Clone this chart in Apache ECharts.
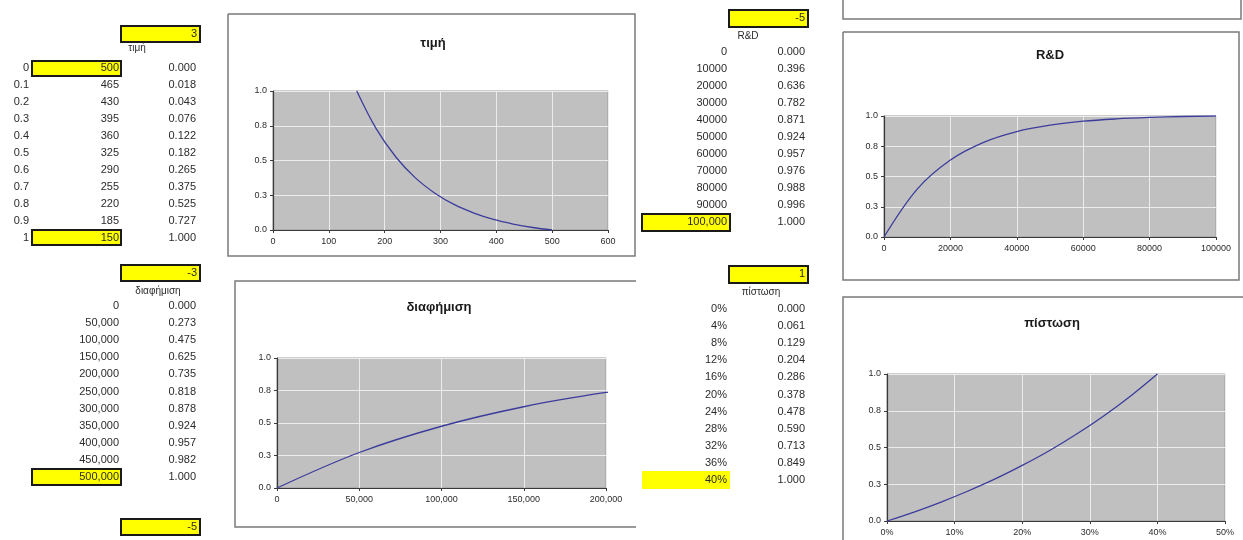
<!DOCTYPE html>
<html>
<head>
<meta charset="utf-8">
<script src="https://cdn.jsdelivr.net/npm/echarts@6/dist/echarts.min.js"></script>
<style>
  html, body { margin: 0; padding: 0; background: #ffffff; }
  #main { width: 1243px; height: 540px; }
</style>
</head>
<body>
<div id="main"></div>
<script>
// ---- spreadsheet parameters ----
const priceParam = 3;
const adParam = -3;
const rdParam = -5;
const creditParam = 1;
const nextParam = -5;

// ---- τιμή (price) ----
const priceSteps = [0, 0.1, 0.2, 0.3, 0.4, 0.5, 0.6, 0.7, 0.8, 0.9, 1];
const priceValues = [500, 465, 430, 395, 360, 325, 290, 255, 220, 185, 150];
const priceScores = [0.000, 0.018, 0.043, 0.076, 0.122, 0.182, 0.265, 0.375, 0.525, 0.727, 1.000];

// ---- διαφήμιση (advertising) ----
const adSpend = [0, 50000, 100000, 150000, 200000, 250000, 300000, 350000, 400000, 450000, 500000];
const adScores = [0.000, 0.273, 0.475, 0.625, 0.735, 0.818, 0.878, 0.924, 0.957, 0.982, 1.000];

// ---- R&D ----
const rdSpend = [0, 10000, 20000, 30000, 40000, 50000, 60000, 70000, 80000, 90000, 100000];
const rdScores = [0.000, 0.396, 0.636, 0.782, 0.871, 0.924, 0.957, 0.976, 0.988, 0.996, 1.000];

// ---- πίστωση (credit) ----
const creditRates = [0, 0.04, 0.08, 0.12, 0.16, 0.20, 0.24, 0.28, 0.32, 0.36, 0.40];
const creditScores = [0.000, 0.061, 0.129, 0.204, 0.286, 0.378, 0.478, 0.590, 0.713, 0.849, 1.000];

// ---- axis tick labels ----
const yTickLabels = ['0.0', '0.3', '0.5', '0.8', '1.0'];
const priceTicks = ['0', '100', '200', '300', '400', '500', '600'];
const adTicks = ['0', '50,000', '100,000', '150,000', '200,000'];
const rdTicks = ['0', '20000', '40000', '60000', '80000', '100000'];
const creditTicks = ['0%', '10%', '20%', '30%', '40%', '50%'];

const FONT = "'Liberation Sans', Arial, sans-serif";
const TEXT = '#2b2b2b';
const LINE = '#3c3c9c';

const chart = echarts.init(document.getElementById('main'), null, { renderer: 'canvas' });

// ---------- cell layout helpers ----------
const g = [];
function cellText(x, y, str, opts) {
  g.push({
    type: 'text', x: x, y: y, z: 20,
    style: Object.assign({
      text: str, fill: TEXT, font: '11px ' + FONT,
      align: 'right', verticalAlign: 'middle'
    }, opts || {})
  });
}
function yellowCell(x, y, w, h, border) {
  g.push({
    type: 'rect', z: 10,
    shape: { x: x, y: y, width: w, height: h },
    style: border
      ? { fill: '#ffff00', stroke: '#1a1a1a', lineWidth: 2 }
      : { fill: '#ffff00' }
  });
}
function frame(points) {
  g.push({
    type: 'polyline', z: 5,
    shape: { points: points },
    style: { stroke: '#7a7a7a', lineWidth: 1.5, fill: null }
  });
}
function fmtComma(v) { return v.toLocaleString('en-US'); }

// table: τιμή
yellowCell(121, 26, 79, 16, true);
cellText(197, 34, String(priceParam));
cellText(137, 48, 'τιμή', { align: 'center', font: '10px ' + FONT });
yellowCell(32, 61, 89, 15, true);
yellowCell(32, 230, 89, 15, true);
priceSteps.forEach((s, i) => {
  const y = 68 + i * 17;
  cellText(29, y, String(s));
  cellText(119, y, String(priceValues[i]));
  cellText(196, y, priceScores[i].toFixed(3));
});

// table: διαφήμιση
yellowCell(121, 265, 79, 16, true);
cellText(197, 273, String(adParam));
cellText(158, 291, 'διαφήμιση', { align: 'center', font: '10px ' + FONT });
yellowCell(32, 469, 89, 16, true);
adSpend.forEach((s, i) => {
  const y = 306 + i * 17.1;
  cellText(119, y, i === 0 ? '0' : fmtComma(s));
  cellText(196, y, adScores[i].toFixed(3));
});
yellowCell(121, 519, 79, 16, true);
cellText(197, 527, String(nextParam));

// table: R&D
yellowCell(729, 10, 79, 17, true);
cellText(805, 18, String(rdParam));
cellText(748, 36, 'R&D', { align: 'center', font: '10px ' + FONT });
yellowCell(642, 214, 88, 17, true);
rdSpend.forEach((s, i) => {
  const y = 52 + i * 17;
  cellText(727, y, i === rdSpend.length - 1 ? fmtComma(s) : String(s));
  cellText(805, y, rdScores[i].toFixed(3));
});

// table: πίστωση
yellowCell(729, 266, 79, 17, true);
cellText(805, 274, String(creditParam));
cellText(761, 292, 'πίστωση', { align: 'center', font: '10px ' + FONT });
yellowCell(642, 471, 88, 18, false);
creditRates.forEach((s, i) => {
  const y = 309 + i * 17.1;
  cellText(727, y, Math.round(s * 100) + '%');
  cellText(805, y, creditScores[i].toFixed(3));
});

// chart frames
frame([[228, 14], [635, 14], [635, 256], [228, 256], [228, 14]]);
frame([[636, 281], [235, 281], [235, 527], [636, 527]]);
frame([[843, 0], [843, 19], [1241, 19], [1241, 0]]);
frame([[843, 32], [1239, 32], [1239, 280], [843, 280], [843, 32]]);
frame([[843, 545], [843, 297], [1243, 297]]);

// ---------- charts ----------
const grids = [
  { left: 273, top: 91, width: 335, height: 139 },
  { left: 277, top: 358, width: 329, height: 130 },
  { left: 884, top: 116, width: 332, height: 121 },
  { left: 887, top: 374, width: 338, height: 147 }
].map(p => Object.assign({
  show: true, backgroundColor: '#c0c0c0', borderColor: '#9a9a9a', borderWidth: 1
}, p));

function xAxis(i, max, interval, labels) {
  return {
    type: 'value', gridIndex: i, min: 0, max: max, interval: interval,
    axisLine: { show: true, onZero: false, lineStyle: { color: '#3a3a3a', width: 1.2 } },
    axisTick: { show: true, length: 3, lineStyle: { color: '#3a3a3a' } },
    splitLine: { show: true, lineStyle: { color: '#ececec', width: 1 } },
    axisLabel: {
      color: TEXT, fontFamily: FONT, fontSize: 9, margin: 7,
      formatter: (v) => labels[Math.round(v / interval)]
    }
  };
}
function yAxis(i) {
  return {
    type: 'value', gridIndex: i, min: 0, max: 1, interval: 0.25,
    axisLine: { show: true, onZero: false, lineStyle: { color: '#3a3a3a', width: 1.2 } },
    axisTick: { show: true, length: 3, lineStyle: { color: '#3a3a3a' } },
    splitLine: { show: true, lineStyle: { color: '#ececec', width: 1 } },
    axisLabel: {
      color: TEXT, fontFamily: FONT, fontSize: 9, margin: 6,
      formatter: (v) => yTickLabels[Math.round(v / 0.25)]
    }
  };
}
function curve(i, xs, ys) {
  return {
    type: 'line', xAxisIndex: i, yAxisIndex: i,
    data: xs.map((x, k) => [x, ys[k]]),
    smooth: 0.35, showSymbol: false, clip: true,
    lineStyle: { color: LINE, width: 1.3 },
    z: 3
  };
}

const titleStyle = { fontFamily: FONT, fontSize: 13, fontWeight: 'bold', color: '#1a1a1a' };

chart.setOption({
  animation: false,
  backgroundColor: '#ffffff',
  title: [
    { text: 'τιμή', left: 428, top: 32, textAlign: 'center', textStyle: titleStyle },
    { text: 'διαφήμιση', left: 434, top: 296, textAlign: 'center', textStyle: titleStyle },
    { text: 'R&D', left: 1045, top: 44, textAlign: 'center', textStyle: titleStyle },
    { text: 'πίστωση', left: 1047, top: 312, textAlign: 'center', textStyle: titleStyle }
  ],
  grid: grids,
  xAxis: [
    xAxis(0, 600, 100, priceTicks),
    xAxis(1, 200000, 50000, adTicks),
    xAxis(2, 100000, 20000, rdTicks),
    xAxis(3, 0.5, 0.1, creditTicks)
  ],
  yAxis: [yAxis(0), yAxis(1), yAxis(2), yAxis(3)],
  series: [
    curve(0, priceValues, priceScores),
    curve(1, adSpend, adScores),
    curve(2, rdSpend, rdScores),
    curve(3, creditRates, creditScores)
  ],
  graphic: g
});
</script>
</body>
</html>
